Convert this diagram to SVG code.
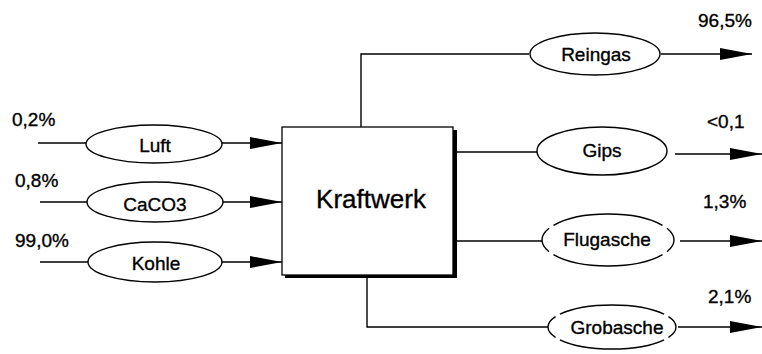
<svg xmlns="http://www.w3.org/2000/svg" width="762" height="354" viewBox="0 0 762 354">
<style>
text{font-family:"Liberation Sans",Arial,sans-serif;fill:#000;stroke:#000;stroke-width:0.35}
.lbl{font-size:19px}
.nt{font-size:19px;text-anchor:middle}
.el{fill:#fff;stroke:#000;stroke-width:1.4}
.dash{stroke-dasharray:4.72 1.72 37.12 1.72 9.44 1.72 37.12 1.72 4.72 0}
.ln{fill:none;stroke:#000;stroke-width:1.4}
</style>
<defs>
<marker id="ah" markerWidth="32" markerHeight="14" refX="32" refY="7" orient="auto" markerUnits="userSpaceOnUse">
<path d="M0,1 L32,7 L0,13 Z" fill="#000"/>
</marker>
</defs>
<rect width="762" height="354" fill="#fff"/>
<g id="connectors">
<line class="ln" x1="38" y1="143" x2="86" y2="143"/>
<line class="ln" x1="222" y1="143" x2="282" y2="143" marker-end="url(#ah)"/>
<line class="ln" x1="40" y1="202" x2="87" y2="202"/>
<line class="ln" x1="222" y1="202" x2="282" y2="202" marker-end="url(#ah)"/>
<line class="ln" x1="40" y1="262" x2="88" y2="262"/>
<line class="ln" x1="222" y1="262" x2="282" y2="262" marker-end="url(#ah)"/>
<polyline class="ln" points="361,127 361,54 529,54"/>
<line class="ln" x1="661" y1="54" x2="752" y2="54" marker-end="url(#ah)"/>
<line class="ln" x1="455" y1="152" x2="537" y2="152"/>
<line class="ln" x1="675" y1="154" x2="762" y2="154" marker-end="url(#ah)"/>
<line class="ln" x1="455" y1="241" x2="542" y2="241"/>
<line class="ln" x1="680" y1="241" x2="762" y2="241" marker-end="url(#ah)"/>
<polyline class="ln" points="367,276 367,327 548,327"/>
<line class="ln" x1="678" y1="327" x2="762" y2="327" marker-end="url(#ah)"/>
</g>
<g id="kraftwerk">
<rect x="285" y="130" width="172" height="148" fill="#000"/>
<rect x="282" y="127" width="171" height="148" fill="#fff" stroke="#000" stroke-width="1.3"/>
<text x="371" y="208" font-size="26" text-anchor="middle">Kraftwerk</text>
</g>
<g id="luft">
<ellipse class="el" cx="154" cy="144" rx="68" ry="19"/>
<text class="nt" x="155" y="152">Luft</text>
<text class="lbl" x="12" y="126">0,2%</text>
</g>
<g id="caco3">
<ellipse class="el" cx="155" cy="202" rx="68" ry="20"/>
<text class="nt" x="155" y="211">CaCO3</text>
<text class="lbl" x="15" y="187">0,8%</text>
</g>
<g id="kohle">
<ellipse class="el" cx="155" cy="262" rx="67" ry="20"/>
<text class="nt" x="156" y="270">Kohle</text>
<text class="lbl" x="15" y="247">99,0%</text>
</g>
<g id="reingas">
<ellipse class="el" cx="595" cy="54" rx="65" ry="21"/>
<text class="nt" x="596" y="61">Reingas</text>
<text class="lbl" x="698" y="27">96,5%</text>
</g>
<g id="gips">
<ellipse class="el" cx="602" cy="151" rx="65" ry="24"/>
<text class="nt" x="602" y="157">Gips</text>
<text class="lbl" x="707" y="128">&lt;0,1</text>
</g>
<g id="flugasche">
<ellipse class="el dash" cx="608" cy="240" rx="66" ry="26" pathLength="100"/>
<text class="nt" x="607" y="246">Flugasche</text>
<text class="lbl" x="703" y="208">1,3%</text>
</g>
<g id="grobasche">
<ellipse class="el dash" cx="612" cy="327" rx="64" ry="22" pathLength="100"/>
<text class="nt" x="617" y="334">Grobasche</text>
<text class="lbl" x="708" y="303">2,1%</text>
</g>
</svg>
